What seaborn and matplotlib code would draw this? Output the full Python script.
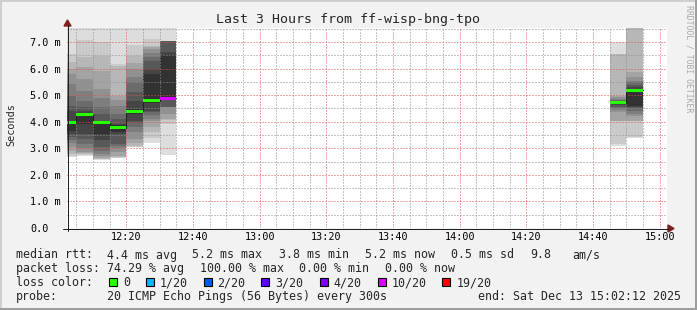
import matplotlib
matplotlib.use("Agg")
import matplotlib.pyplot as plt
import numpy as np
import pandas as pd
import seaborn as sns
from matplotlib.patches import Rectangle, Polygon
from matplotlib.lines import Line2D
from matplotlib.ticker import FixedLocator, MultipleLocator

# ---------------- data ----------------
title = "Last 3 Hours from ff-wisp-bng-tpo"
view_start = "12:02:12"
view_end = "15:02:12"
bin_end = ["12:05", "12:10", "12:15", "12:20", "12:25", "12:30", "12:35", "14:50", "14:55"]
median_ms = [3.98, 4.27, 3.96, 3.78, 4.40, 4.79, 4.89, 4.72, 5.18]
loss_of_20 = [0, 0, 0, 0, 0, 0, 10, 0, 0]

# sorted ping rtts (ms) per 5-minute step, as read from the smoke
p_1205 = [2.66, 2.70, 2.80, 2.90, 3.04, 3.20, 3.30, 3.41, 3.55, 3.66, 4.04, 4.42, 4.60, 4.98, 5.42, 5.80, 6.00, 6.24, 6.55, 8.00]
p_1210 = [2.72, 2.76, 2.79, 2.82, 2.85, 3.00, 3.16, 3.35, 3.54, 3.92, 4.30, 4.39, 4.55, 4.79, 5.17, 5.61, 6.05, 6.42, 7.07, 8.00]
p_1215 = [2.56, 2.58, 2.60, 2.65, 2.72, 2.80, 2.90, 3.04, 3.30, 3.54, 3.98, 4.04, 4.30, 4.54, 4.90, 5.23, 5.90, 6.49, 6.99, 8.00]
p_1220 = [2.63, 2.65, 2.66, 2.70, 2.85, 3.00, 3.10, 3.16, 3.54, 3.60, 3.88, 3.92, 4.10, 4.30, 4.60, 4.80, 4.98, 6.10, 6.17, 7.90]
p_1225 = [3.04, 3.06, 3.08, 3.20, 3.35, 3.60, 3.79, 3.95, 4.04, 4.30, 4.48, 4.79, 5.10, 5.48, 5.70, 5.98, 6.20, 6.49, 6.90, 8.00]
p_1230 = [3.20, 3.40, 3.60, 3.80, 4.04, 4.10, 4.25, 4.35, 4.42, 4.70, 5.80, 6.00, 6.30, 6.45, 6.60, 6.75, 6.80, 6.85, 7.11, 8.00]
p_1235 = [2.76, 3.90, 4.05, 4.10, 4.30, 4.54, 4.54, 4.54, 4.86, 4.88, 6.50, 6.61, 7.05, 7.05, 7.05, 7.05, 7.05, 7.05, 7.05, 8.00]
p_1450 = [3.10, 3.15, 4.02, 4.04, 4.35, 4.45, 4.52, 4.56, 4.62, 4.68, 4.75, 4.77, 4.79, 4.82, 4.86, 4.92, 4.98, 6.54, 6.54, 6.99]
p_1455 = [3.37, 3.42, 4.02, 4.04, 4.20, 4.30, 4.42, 4.50, 4.55, 4.60, 5.22, 5.29, 5.38, 5.48, 5.55, 5.67, 5.86, 7.80, 8.20, 8.60]
pings = [p_1205, p_1210, p_1215, p_1220, p_1225, p_1230, p_1235, p_1450, p_1455]

x_tick_labels = ["12:20", "12:40", "13:00", "13:20", "13:40", "14:00", "14:20", "14:40", "15:00"]
y_tick_values = [0, 1, 2, 3, 4, 5, 6, 7]
y_tick_labels = ["0.0", "1.0 m", "2.0 m", "3.0 m", "4.0 m", "5.0 m", "6.0 m", "7.0 m"]
y_max = 7.527

loss_levels = ["0", "1/20", "2/20", "3/20", "4/20", "10/20", "19/20"]
loss_level_counts = [0, 1, 2, 3, 4, 10, 19]
loss_level_colors = ["#26ff00", "#00b8ff", "#0059ff", "#5e00ff", "#7e00ff", "#dd00ff", "#ff0000"]

row_rtt = ["median rtt:", "4.4 ms avg", "5.2 ms max", "3.8 ms min", "5.2 ms now", "0.5 ms sd", "9.8", "am/s"]
row_loss = ["packet loss:", "74.29 % avg", "100.00 % max", "0.00 % min", "0.00 % now"]
probe_label = "probe:"
probe_text = "20 ICMP Echo Pings (56 Bytes) every 300s"
end_text = "end: Sat Dec 13 15:02:12 2025"
watermark = "RRDTOOL / TOBI OETIKER"
y_label = "Seconds"

# ---------------- helpers ----------------
def to_min(s):
    parts = [int(p) for p in s.split(":")]
    while len(parts) < 3:
        parts.append(0)
    return parts[0] * 60 + parts[1] + parts[2] / 60.0 - 720

W, H = 697, 310
def fx(x):
    return x / W
def fy(y):
    return 1 - y / H

sns.set_style("white")
plt.rcParams["font.family"] = ["DejaVu Sans Mono", "DejaVu Sans"]

BG = "#f2f2f2"
fig = plt.figure(figsize=(W / 100, H / 100), dpi=100, facecolor=BG)
ax = fig.add_axes([fx(67), fy(228), 600 / W, 200 / H])
ax.set_facecolor("white")

t_start, t_end = to_min(view_start), to_min(view_end)
ends = np.array([to_min(s) for s in bin_end])
starts = ends - 5
smoke = np.sort(np.array(pings), axis=1)

# smoke layers: outermost (lightest) first
npings = smoke.shape[1]
half = npings // 2
for k in range(1, half + 1):
    g = int(190 / half * (half - k)) + 50
    col = "#%02x%02x%02x" % (g, g, g)
    lo = smoke[:, k - 1]
    hi = smoke[:, npings - k]
    ax.bar(starts, hi - lo, bottom=lo, width=5, align="edge", color=col,
           linewidth=0, zorder=1)

# dark stepped median line
rows = []
seg = 0
for i in range(len(ends)):
    if i > 0 and abs(starts[i] - ends[i - 1]) > 1e-6:
        seg += 1
    rows.append((starts[i], median_ms[i], seg, 2 * i))
    rows.append((ends[i], median_ms[i], seg, 2 * i + 1))
df = pd.DataFrame(rows, columns=["t", "m", "seg", "order"])
sns.lineplot(data=df, x="t", y="m", units="seg", estimator=None, sort=False,
             color="#202020", linewidth=0.72, ax=ax, legend=False, zorder=3)

# colored median marks by loss
cmap = dict(zip(loss_level_counts, loss_level_colors))
dh = 1.5 * y_max / 200
med = np.array(median_ms)
ax.bar(starts, 2 * dh, bottom=med - dh, width=5, align="edge",
       color=[cmap[l] for l in loss_of_20], linewidth=0, zorder=4)

ax.set_xlim(t_start, t_end)
ax.set_ylim(0, y_max)
ax.set_xlabel("")
ax.set_ylabel("")

# ticks / grid
ax.xaxis.set_major_locator(FixedLocator([to_min(s) for s in x_tick_labels]))
ax.set_xticklabels(x_tick_labels)
ax.xaxis.set_minor_locator(MultipleLocator(5))
ax.yaxis.set_major_locator(FixedLocator(y_tick_values))
ax.set_yticklabels(y_tick_labels)
ax.yaxis.set_minor_locator(MultipleLocator(0.5))

mg = (0.87, 0.31, 0.31, 0.45)
mn = (0.56, 0.56, 0.56, 0.4)
ax.set_axisbelow(False)
ax.grid(which="major", color=mg, linewidth=0.72, linestyle=(0, (1, 2)))
ax.grid(which="minor", color=mn, linewidth=0.72, linestyle=(0, (1, 2)))
for sp in ax.spines.values():
    sp.set_visible(False)

ax.tick_params(axis="both", which="major", direction="inout", length=2.9, width=0.72,
               color=(0.87, 0.31, 0.31, 0.7), labelsize=7.3, labelcolor="black")
ax.tick_params(axis="both", which="minor", direction="inout", length=2.9, width=0.72,
               color=(0.56, 0.56, 0.56, 0.7))
ax.tick_params(axis="x", which="major", pad=1.7)
ax.tick_params(axis="y", which="major", pad=25.2)
for lab in ax.get_yticklabels():
    lab.set_horizontalalignment("left")

# axes lines and arrows (figure pixel geometry)
axis_col = (0.12, 0.12, 0.12)
arrow_col = (0.5, 0.12, 0.12)
fig.add_artist(Line2D([fx(67.5), fx(67.5)], [fy(231), fy(25)], color=axis_col, lw=0.72,
                      transform=fig.transFigure))
fig.add_artist(Line2D([fx(63), fx(669)], [fy(228.5), fy(228.5)], color=axis_col, lw=0.72,
                      transform=fig.transFigure))
fig.add_artist(Polygon([[fx(67.5), fy(20)], [fx(64), fy(26)], [fx(71), fy(26)]], closed=True,
                       color=arrow_col, transform=fig.transFigure))
fig.add_artist(Polygon([[fx(674), fy(228.5)], [fx(668), fy(225)], [fx(668), fy(232)]], closed=True,
                       color=arrow_col, transform=fig.transFigure))

# frame shading
fig.add_artist(Rectangle((0, fy(H)), 2 / W, 1, color="#cfcfcf", transform=fig.transFigure, lw=0))
fig.add_artist(Rectangle((0, fy(2)), 1, 2 / H, color="#cfcfcf", transform=fig.transFigure, lw=0))
fig.add_artist(Rectangle((fx(W - 2), 0), 2 / W, 1, color="#9e9e9e", transform=fig.transFigure, lw=0))
fig.add_artist(Rectangle((0, 0), 1, 2 / H, color="#9e9e9e", transform=fig.transFigure, lw=0))

# texts
fig.text(fx(348), fy(23), title, ha="center", va="baseline", fontsize=9.5)
fig.text(fx(11), fy(125), y_label, rotation=90, ha="center", va="center", fontsize=7.3)
fig.text(fx(689.5), fy(59), watermark, rotation=270, ha="center", va="center",
         fontsize=5.9, color="#a8a8a8")

LF = 8.4
rtt_x = [16, 107, 192, 279, 365, 451, 530, 572]
for s, x in zip(row_rtt, rtt_x):
    fig.text(fx(x), fy(258.5), s, ha="left", va="baseline", fontsize=LF)
loss_x = [16, 107, 200, 299, 385]
for s, x in zip(row_loss, loss_x):
    fig.text(fx(x), fy(272.3), s, ha="left", va="baseline", fontsize=LF)

fig.text(fx(16), fy(286.1), "loss color:", ha="left", va="baseline", fontsize=LF)
sq_x = [108.5, 146, 203.5, 261, 319.5, 378, 442]
txt_x = [123.3, 160, 217.3, 275, 333.3, 391.7, 456.7]
for lab, colr, sx, tx in zip(loss_levels, loss_level_colors, sq_x, txt_x):
    fig.add_artist(Rectangle((fx(sx), fy(286)), 8 / W, 8 / H, facecolor=colr,
                             edgecolor="black", lw=0.8, transform=fig.transFigure))
    fig.text(fx(tx), fy(286.1), lab, ha="left", va="baseline", fontsize=LF)

fig.text(fx(16), fy(299.9), probe_label, ha="left", va="baseline", fontsize=LF)
fig.text(fx(107), fy(299.9), probe_text, ha="left", va="baseline", fontsize=LF)
fig.text(fx(478.5), fy(299.9), end_text, ha="left", va="baseline", fontsize=LF)

fig.savefig("out.png", dpi=100, facecolor=BG)
